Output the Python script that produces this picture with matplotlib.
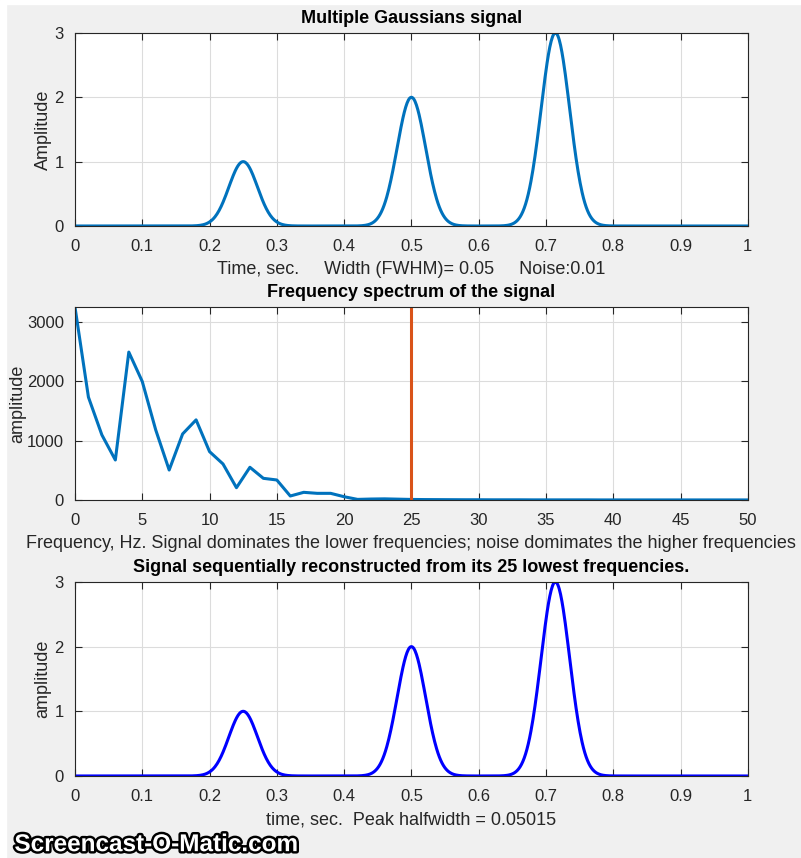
"""Three-panel Gaussian signal / spectrum / reconstruction figure (MATLAB style)."""

import matplotlib
matplotlib.use("Agg")
import matplotlib.pyplot as plt
import matplotlib.patheffects as pe
from matplotlib.patches import Rectangle
import numpy as np

# peaks
peak_pos = [0.25, 0.50, 0.714]
peak_height = [1.0, 2.0, 3.0]
fwhm = 0.05

# spectrum amplitude at integer frequencies 0..50 Hz
freq = list(range(51))
spectrum = [3253, 1734, 1097, 675, 2493, 1998, 1182, 506, 1114, 1351,
            816, 608, 208, 552, 366, 338, 68, 130, 113, 113,
            56, 11, 17, 20, 15, 10, 8, 7, 6, 5,
            5, 4, 4, 4, 3, 3, 3, 3, 3, 2,
            2, 2, 2, 2, 2, 2, 2, 2, 2, 2, 2]
cutoff = 25

time_ticks = [0, 0.1, 0.2, 0.3, 0.4, 0.5, 0.6, 0.7, 0.8, 0.9, 1]
time_ticklabels = ["0", "0.1", "0.2", "0.3", "0.4", "0.5", "0.6", "0.7", "0.8", "0.9", "1"]
freq_ticks = [0, 5, 10, 15, 20, 25, 30, 35, 40, 45, 50]
amp_ticks = [0, 1, 2, 3]
spec_ticks = [0, 1000, 2000, 3000]

MATLAB_BLUE = "#0072BD"
MATLAB_RED = "#D95319"
TXT = "#262626"
BG = "#F0F0F0"
TICK_FS = 12
LABEL_FS = 13

plt.rcParams["font.family"] = ["Liberation Sans", "DejaVu Sans"]

t = np.linspace(0, 1, 1000)
sigma = fwhm / (2 * np.sqrt(2 * np.log(2)))
signal = np.zeros_like(t)
for p, h in zip(peak_pos, peak_height):
    signal += h * np.exp(-0.5 * ((t - p) / sigma) ** 2)

fig = plt.figure(figsize=(8.01, 8.58), dpi=100, facecolor=BG)
# white screen-capture edges
fig.patches.append(Rectangle((0, 0.9953), 1, 0.0047, transform=fig.transFigure,
                             color="white", zorder=0))
fig.patches.append(Rectangle((0, 0), 0.008, 1, transform=fig.transFigure,
                             color="white", zorder=0))


def style(ax):
    ax.set_facecolor("white")
    ax.grid(True, color="#DCDCDC", linewidth=0.8)
    ax.set_axisbelow(True)
    ax.tick_params(direction="in", length=5, width=0.8, colors=TXT,
                   top=True, right=True, labelsize=TICK_FS)
    ax.tick_params(axis="x", pad=9.5)
    ax.tick_params(axis="y", pad=8)
    for s in ax.spines.values():
        s.set_color("#262626")
        s.set_linewidth(0.8)


L, W = 0.0936, 0.840

ax1 = fig.add_axes([L, 0.7366, W, 0.225])
ax1.plot(t, signal, color=MATLAB_BLUE, linewidth=2.2)
ax1.set_xlim(0, 1)
ax1.set_ylim(0, 3)
ax1.set_xticks(time_ticks, time_ticklabels)
ax1.set_yticks(amp_ticks)
ax1.set_title("Multiple Gaussians signal", fontweight="bold", fontsize=LABEL_FS,
              pad=7, color="black")
ax1.set_xlabel("Time, sec.     Width (FWHM)= 0.05     Noise:0.01", color=TXT,
               fontsize=LABEL_FS, labelpad=5)
ax1.set_ylabel("Amplitude", color=TXT, fontsize=LABEL_FS, labelpad=2)
style(ax1)

ax2 = fig.add_axes([L, 0.4172, W, 0.225])
ax2.plot(freq, spectrum, color=MATLAB_BLUE, linewidth=2.2)
ax2.axvline(cutoff, color=MATLAB_RED, linewidth=2.2)
ax2.set_xlim(0, 50)
ax2.set_ylim(0, max(spectrum))
ax2.set_xticks(freq_ticks)
ax2.set_yticks(spec_ticks)
ax2.set_title("Frequency spectrum of the signal", fontweight="bold", fontsize=LABEL_FS,
              pad=7, color="black")
ax2.set_xlabel("Frequency, Hz. Signal dominates the lower frequencies; "
               "noise domimates the higher frequencies", color=TXT,
               fontsize=LABEL_FS, labelpad=5)
ax2.set_ylabel("amplitude", color=TXT, fontsize=LABEL_FS, labelpad=0)
style(ax2)

ax3 = fig.add_axes([L, 0.0956, W, 0.2261])
ax3.plot(t, signal, color="blue", linewidth=2.2)
ax3.set_xlim(0, 1)
ax3.set_ylim(0, 3)
ax3.set_xticks(time_ticks, time_ticklabels)
ax3.set_yticks(amp_ticks)
ax3.set_title("Signal sequentially reconstructed from its 25 lowest frequencies.",
              fontweight="bold", fontsize=LABEL_FS, pad=7, color="black")
ax3.set_xlabel("time, sec.  Peak halfwidth = 0.05015", color=TXT,
               fontsize=LABEL_FS, labelpad=5)
ax3.set_ylabel("amplitude", color=TXT, fontsize=LABEL_FS, labelpad=2)
style(ax3)

fig.text(0.018, 0.008, "Screencast-O-Matic.com", color="white", fontsize=17.5,
         fontweight="bold", family=["Liberation Sans Narrow", "Liberation Sans"],
         path_effects=[pe.withStroke(linewidth=3.5, foreground="black")])

fig.savefig("out.png", dpi=100, facecolor=BG)
